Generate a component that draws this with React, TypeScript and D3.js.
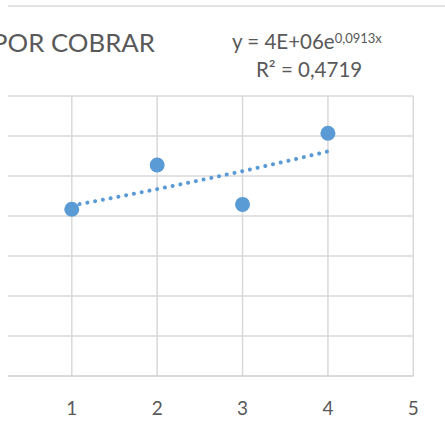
import React from "react";
import * as d3 from "d3";

// chart values (cuentas por cobrar, in units)
const periods = [1, 2, 3, 4];
const porCobrar = [4170000, 5275000, 4290000, 6070000];
const xTicks = [1, 2, 3, 4, 5];
const yTicks = [0, 1000000, 2000000, 3000000, 4000000, 5000000, 6000000, 7000000];
const titleText = "POR COBRAR";
const equationMain = "y = 4E+06e";
const equationExp = "0,0913x";
const rSquaredText = "R² = 0,4719";

const BLUE = "#5B9BD5";
const GRID = "#D9D9D9";
const TEXT = "#595959";
const FONT = "Lato, 'Open Sans', sans-serif";

export default function App() {
  const width = 445;
  const height = 435;

  // plot area: x = 0 lies off the left edge (the picture is cropped)
  const xScale = d3.scaleLinear().domain([0, 5]).range([-13.6, 413.3]);
  const yScale = d3.scaleLinear().domain([0, 7000000]).range([376, 96]);
  const gridLeft = 8;

  // exponential trendline: least squares on ln(y)
  const logs = porCobrar.map(v => Math.log(v));
  const xMean = d3.mean(periods) as number;
  const lMean = d3.mean(logs) as number;
  const slope =
    d3.sum(periods, (x, i) => (x - xMean) * (logs[i] - lMean)) /
    d3.sum(periods, x => (x - xMean) * (x - xMean));
  const intercept = lMean - slope * xMean;
  const trendXs = d3.range(1, 4.0001, 0.05);
  const trendLine = d3
    .line<number>()
    .x(x => xScale(x))
    .y(x => yScale(Math.exp(intercept + slope * x)));

  return (
    <svg
      width={width}
      height={height}
      style={{ position: "absolute", left: 0, top: 0, background: "#fff" }}
    >
      {/* chart border top */}
      <line x1={gridLeft} x2={width} y1={6} y2={6} stroke={GRID} strokeWidth={1.5} />

      {/* title, cropped at the left */}
      <text
        x={155}
        y={52}
        textAnchor="end"
        fontFamily={FONT}
        fontSize={25.8}
        fill={TEXT}
      >
        {titleText}
      </text>

      {/* trendline label */}
      <text x={232} y={49} fontFamily={FONT} fontSize={20.5} fill={TEXT}>
        {equationMain}
        <tspan fontSize={13} dy={-6}>
          {equationExp}
        </tspan>
      </text>
      <text x={256} y={77} fontFamily={FONT} fontSize={20.5} fill={TEXT}>
        {rSquaredText}
      </text>

      {/* horizontal gridlines */}
      {yTicks.slice(1).map(t => (
        <line
          key={"h" + t}
          x1={gridLeft}
          x2={xScale(5)}
          y1={yScale(t)}
          y2={yScale(t)}
          stroke={GRID}
          strokeWidth={1.5}
        />
      ))}
      {/* vertical gridlines */}
      {xTicks.map(t => (
        <line
          key={"v" + t}
          x1={xScale(t)}
          x2={xScale(t)}
          y1={yScale(7000000)}
          y2={yScale(0)}
          stroke={GRID}
          strokeWidth={1.5}
        />
      ))}
      {/* x axis */}
      <line
        x1={gridLeft}
        x2={xScale(5)}
        y1={yScale(0)}
        y2={yScale(0)}
        stroke="#CFCFCF"
        strokeWidth={1.6}
      />

      {/* x tick labels */}
      {xTicks.map(t => (
        <text
          key={"l" + t}
          x={xScale(t)}
          y={415}
          textAnchor="middle"
          fontFamily={FONT}
          fontSize={19}
          fill={TEXT}
        >
          {t}
        </text>
      ))}

      {/* markers */}
      {porCobrar.map((v, i) => (
        <circle key={"p" + i} cx={xScale(periods[i])} cy={yScale(v)} r={7.5} fill={BLUE} />
      ))}

      {/* dotted trendline */}
      <path
        d={trendLine(trendXs) || ""}
        fill="none"
        stroke={BLUE}
        strokeWidth={4}
        strokeLinecap="round"
        strokeDasharray="0.1 7.8"
      />
    </svg>
  );
}
